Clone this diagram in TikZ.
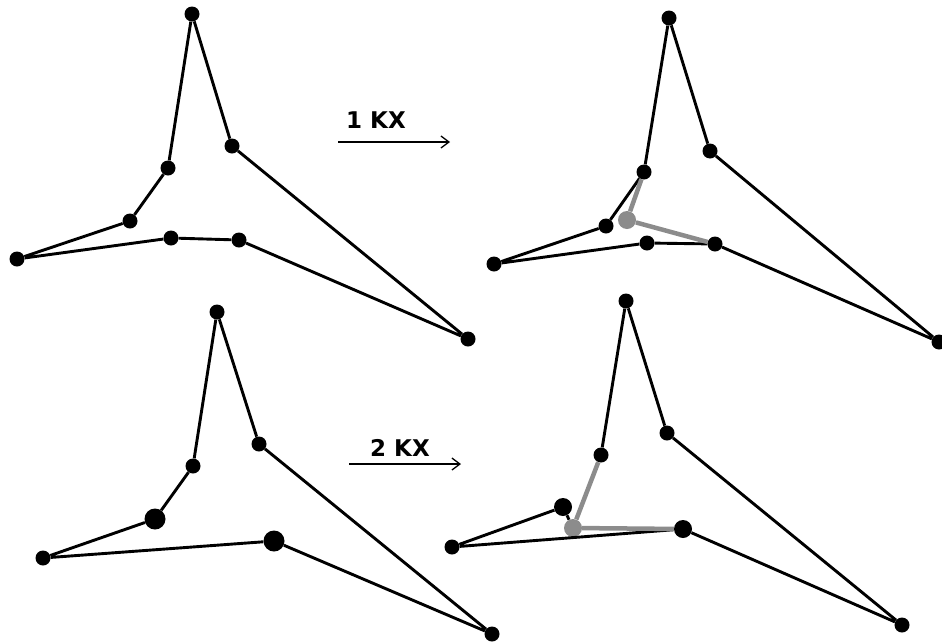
\documentclass[tikz,border=0pt]{standalone}
\usepackage{fontspec}
\setmainfont{DejaVu Sans}
\usepackage{tikz}
\usetikzlibrary{arrows.meta}
\definecolor{kxgray}{HTML}{8C8C8C}

\begin{document}
\begin{tikzpicture}[
    x=1pt, y=-1pt,
    dot/.style={circle, fill=black, inner sep=0pt, minimum size=15pt},
    bigdot/.style={dot, minimum size=21pt},
    graydot/.style={circle, fill=kxgray, inner sep=0pt, minimum size=18pt},
    edge/.style={line width=2.9pt, black, line join=round},
    grayedge/.style={line width=4.5pt, kxgray},
    kxtext/.style={font=\fontsize{23}{27}\selectfont\bfseries},
    arrow/.style={-{Straight Barb[length=8pt, width=12pt]}, line width=1.3pt}
]
    \useasboundingbox (0,0) rectangle (942,643);

    % figure top left
    \node[dot] (atop) at (192,14) {};
    \node[dot] (arin) at (232,146) {};
    \node[dot] (alup) at (168,168) {};
    \node[dot] (allo) at (130,221) {};
    \node[dot] (afl)  at (17,259) {};
    \node[dot] (abm)  at (171,238) {};
    \node[dot] (abr)  at (239,240) {};
    \node[dot] (afr)  at (468,339) {};
    \draw[edge] (atop) -- (arin) -- (afr) -- (abr) -- (abm) -- (afl) -- (allo) -- (alup) -- (atop);

    % figure top right
    \node[dot] (btop) at (669,18) {};
    \node[dot] (brin) at (710,151) {};
    \node[dot] (blup) at (644,172) {};
    \node[dot] (bllo) at (606,226) {};
    \node[dot] (bfl)  at (494,264) {};
    \node[dot] (bbm)  at (647,243) {};
    \node[dot] (bbr)  at (715,244) {};
    \node[dot] (bfr)  at (939,342) {};
    \draw[edge] (btop) -- (brin) -- (bfr) -- (bbr) -- (bbm) -- (bfl) -- (bllo) -- (blup) -- (btop);
    \node[graydot] (bg) at (627,220) {};
    \draw[grayedge] (blup) -- (bg) -- (bbr);

    % figure bottom left
    \node[dot] (ctop) at (217,312) {};
    \node[dot] (crin) at (259,444) {};
    \node[dot] (clup) at (193,466) {};
    \node[bigdot] (cllo) at (155,519) {};
    \node[dot] (cfl)  at (43,558) {};
    \node[bigdot] (cbr)  at (274,541) {};
    \node[dot] (cfr)  at (492,634) {};
    \draw[edge] (ctop) -- (crin) -- (cfr) -- (cbr) -- (cfl) -- (cllo) -- (clup) -- (ctop);

    % figure bottom right
    \node[dot] (dtop) at (626,301) {};
    \node[dot] (drin) at (667,433) {};
    \node[dot] (dlup) at (601,455) {};
    \node[dot, minimum size=18pt] (dllo) at (563,507) {};
    \node[dot] (dfl)  at (452,547) {};
    \node[dot, minimum size=18pt] (dbr)  at (683,529) {};
    \node[dot] (dfr)  at (902,625) {};
    \node[graydot] (dg) at (573,528) {};
    \draw[edge] (dtop) -- (drin) -- (dfr) -- (dbr) -- (dfl) -- (dllo) -- (dg);
    \draw[edge] (dlup) -- (dtop);
    \draw[grayedge] (dlup) -- (dg) -- (dbr);

    % steps
    \node[kxtext] (kx1) at (376,120) {1 KX};
    \coordinate (s1) at (338,142);
    \coordinate (e1) at (450,142);
    \draw[arrow] (s1) -- (e1);

    \node[kxtext] (kx2) at (400,448) {2 KX};
    \coordinate (s2) at (349,464);
    \coordinate (e2) at (461,464);
    \draw[arrow] (s2) -- (e2);
\end{tikzpicture}
\end{document}
